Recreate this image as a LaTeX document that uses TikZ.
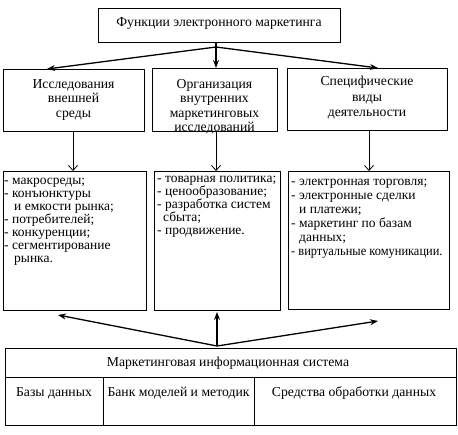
\documentclass[tikz,border=0pt]{standalone}
\usepackage{fontspec}
\usepackage{graphicx}
\setmainfont{Liberation Serif}
\usetikzlibrary{arrows.meta,positioning}

\begin{document}
\begin{tikzpicture}[x=1pt,y=-1pt,font=\fontsize{13.7}{14.5}\selectfont,
	box/.style={draw, line width=0.6pt, inner sep=0pt, anchor=north west},
	ttl/.style={align=center, anchor=north, inner sep=0pt, execute at begin node=\strut},
	lst/.style={align=left, anchor=north west, inner sep=0pt, execute at begin node=\strut},
	con/.style={line width=1.3pt, -{Stealth[length=8pt,width=6pt]}},
	dwn/.style={line width=0.8pt, -{Straight Barb[length=5pt,width=9pt,line width=0.8pt]}}]

	\useasboundingbox (0,0) rectangle (458,434);

	% functions
	\node[box, minimum width=242pt, minimum height=34pt] (fun) at (98,8) {};
	\node[inner sep=0pt] (funtxt) at (219,23) {Функции электронного маркетинга};

	\node[box, minimum width=141pt, minimum height=62pt] (res) at (3,69) {};
	\node[box, minimum width=125pt, minimum height=63pt] (org) at (152,68) {};
	\node[box, minimum width=160pt, minimum height=62pt] (spe) at (287,68) {};

	\node[ttl] (restxt) at (73.5,79) {Исследования\\внешней\\среды};
	\node[ttl] (orgtxt) at (214.5,79) {Организация\\внутренних\\маркетинговых\\исследований};
	\node[ttl, font=\fontsize{13.7}{15.5}\selectfont] (spetxt) at (367,76) {Специфические\\виды\\деятельности};

	\coordinate (jtop) at (216,47);
	\coordinate (tres) at (47,69);
	\coordinate (tspe) at (378,68);
	\draw[line width=1.3pt] (fun.south -| jtop) -- (jtop);
	\draw[con] (jtop) -- (tres);
	\draw[con] (jtop) -- (jtop |- org.north);
	\draw[con] (jtop) -- (tspe);

	% lists
	\node[box, minimum width=143pt, minimum height=139pt] (lres) at (3,171) {};
	\node[box, minimum width=126pt, minimum height=139pt] (lorg) at (154,171) {};
	\node[box, minimum width=161pt, minimum height=138pt] (lspe) at (288,171) {};

	\node[lst, font=\fontsize{13.5}{13}\selectfont] (lrestxt) at (4,178) {- макросреды;\\- конъюнктуры\\\hspace*{10pt}и емкости рынка;\\- потребителей;\\- конкуренции;\\- сегментирование\\\hspace*{10pt}рынка.};
	\node[lst, font=\fontsize{13.5}{13}\selectfont] (lorgtxt) at (157,176) {- товарная политика;\\- ценообразование;\\- разработка систем\\\hspace*{6pt}сбыта;\\- продвижение.};
	\node[lst, font=\fontsize{13.5}{14}\selectfont] (lspetxt) at (291,178.5) {- электронная торговля;\\- электронные сделки\\\hspace*{8pt}и платежи;\\- маркетинг по базам\\\hspace*{8pt}данных;\\\scalebox{0.92}[1]{- виртуальные комуникации.}};

	\draw[dwn] (res.south -| 73,0) -- (lres.north -| 73,0);
	\draw[dwn] (org.south -| 216,0) -- (lorg.north -| 216,0);
	\draw[dwn] (spe.south -| 369,0) -- (lspe.north -| 369,0);

	% information system
	\node[box, minimum width=451pt, minimum height=77pt] (mis) at (5,348) {};
	\coordinate (row) at (5,377);
	\coordinate (cola) at (103,425);
	\coordinate (colb) at (254,425);
	\draw[line width=0.6pt] (row) -- (row -| mis.east);
	\draw[line width=0.6pt] (cola) -- (cola |- row);
	\draw[line width=0.6pt] (colb) -- (colb |- row);

	\node[anchor=base, inner sep=0pt] (mistxt) at (228,366) {Маркетинговая информационная система};
	\node[anchor=base, inner sep=0pt] (db) at (54,396) {Базы данных};
	\node[anchor=base, inner sep=0pt] (bank) at (178.5,396) {Банк моделей и методик};
	\node[anchor=base, inner sep=0pt] (tools) at (354,396) {Средства обработки данных};

	\coordinate (jbot) at (217,346);
	\coordinate (bres) at (58,315);
	\coordinate (borg) at (217,312);
	\coordinate (bspe) at (378,321);
	\draw[con] (jbot) -- (bres);
	\draw[con] (jbot) -- (borg);
	\draw[con] (jbot) -- (bspe);

\end{tikzpicture}
\end{document}
